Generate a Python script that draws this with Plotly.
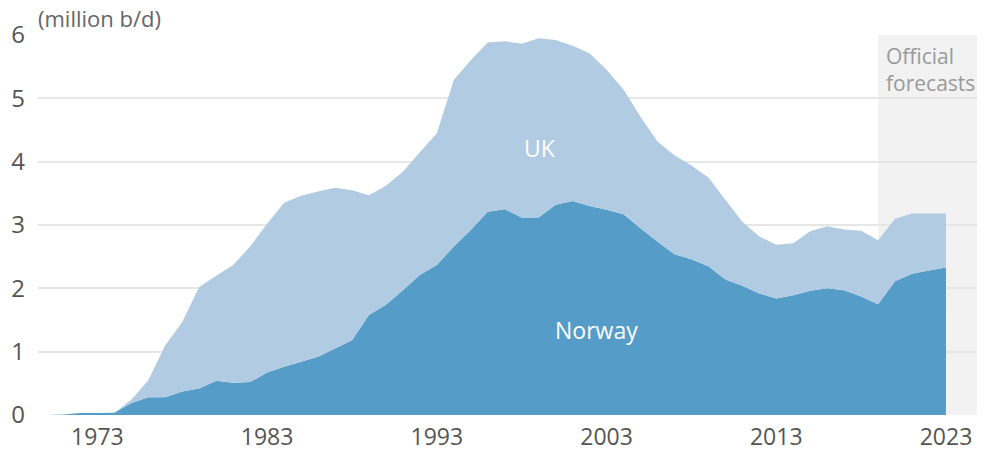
import plotly.graph_objects as go

years = list(range(1970, 2024))
norway = [0.0, 0.006, 0.03, 0.03, 0.035, 0.19, 0.28, 0.28, 0.37, 0.42,
          0.54, 0.51, 0.52, 0.67, 0.76, 0.84, 0.92, 1.05, 1.18, 1.58,
          1.74, 1.97, 2.21, 2.37, 2.66, 2.92, 3.21, 3.25, 3.12, 3.12,
          3.32, 3.38, 3.30, 3.24, 3.17, 2.95, 2.74, 2.54, 2.46, 2.35,
          2.14, 2.04, 1.92, 1.84, 1.89, 1.96, 2.00, 1.97, 1.87, 1.75,
          2.11, 2.23, 2.28, 2.33]
uk = [0.0, 0.002, 0.0, 0.0, 0.0, 0.05, 0.27, 0.82, 1.10, 1.60,
      1.66, 1.86, 2.14, 2.35, 2.59, 2.62, 2.61, 2.54, 2.37, 1.89,
      1.88, 1.87, 1.94, 2.08, 2.63, 2.68, 2.67, 2.65, 2.74, 2.83,
      2.60, 2.45, 2.41, 2.21, 1.97, 1.76, 1.58, 1.56, 1.48, 1.40,
      1.26, 1.01, 0.90, 0.85, 0.82, 0.94, 0.98, 0.96, 1.04, 1.01,
      0.99, 0.95, 0.90, 0.85]
x_ticks = [1973, 1983, 1993, 2003, 2013, 2023]
y_ticks = [0, 1, 2, 3, 4, 5, 6]
forecast_start = 2019

FONT = "Open Sans"

fig = go.Figure()
fig.add_trace(go.Scatter(x=years, y=norway, name="Norway", stackgroup="one",
                         mode="none", fillcolor="#559dc8", hoverinfo="x+y"))
fig.add_trace(go.Scatter(x=years, y=uk, name="UK", stackgroup="one",
                         mode="none", fillcolor="#b0cbe2", hoverinfo="x+y"))

fig.add_shape(type="rect", xref="x", yref="y", x0=forecast_start, x1=2025.3,
              y0=0, y1=6, fillcolor="#f2f2f2", line_width=0, layer="below")

fig.add_annotation(text="(million b/d)", xref="paper", yref="paper",
                   x=0, xshift=-2, y=1.0, yshift=17, xanchor="left", yanchor="middle",
                   showarrow=False, font=dict(family=FONT, size=22, color="#666"))
fig.add_annotation(text="Official<br>forecasts", xref="x", yref="y",
                   x=forecast_start, xshift=6, y=6, yshift=-5,
                   xanchor="left", yanchor="top", align="left", showarrow=False,
                   font=dict(family=FONT, size=21, color="#9a9a9a"))
fig.add_annotation(text="UK", xref="x", yref="y", x=1999.1, y=4.21,
                   showarrow=False, font=dict(family=FONT, size=23, color="white"))
fig.add_annotation(text="Norway", xref="x", yref="y", x=2002.4, y=1.35,
                   showarrow=False, font=dict(family=FONT, size=23, color="white"))

# the page body has an 8px default margin; the figure is sized so it fits the window
fig.update_layout(
    width=977, height=442,
    margin=dict(l=30, r=0, t=27, b=35, autoexpand=False),
    paper_bgcolor="white", plot_bgcolor="white",
    showlegend=False,
    font=dict(family=FONT, color="#555"),
    xaxis=dict(range=[1969.5, 2025.3], tickvals=x_ticks, showgrid=False,
               zeroline=False, showline=False, ticks="", automargin=False,
               ticklabelstandoff=6,
               tickfont=dict(size=23, color="#555")),
    yaxis=dict(range=[0, 6], tickvals=y_ticks, showgrid=True,
               gridcolor="#e6e6e6", gridwidth=1.5, zeroline=False,
               showline=False, ticks="", ticklabelstandoff=12, automargin=False,
               tickfont=dict(size=24, color="#555")),
)
fig.update_layout(yaxis_layer="below traces")

fig.write_html("out.html")
